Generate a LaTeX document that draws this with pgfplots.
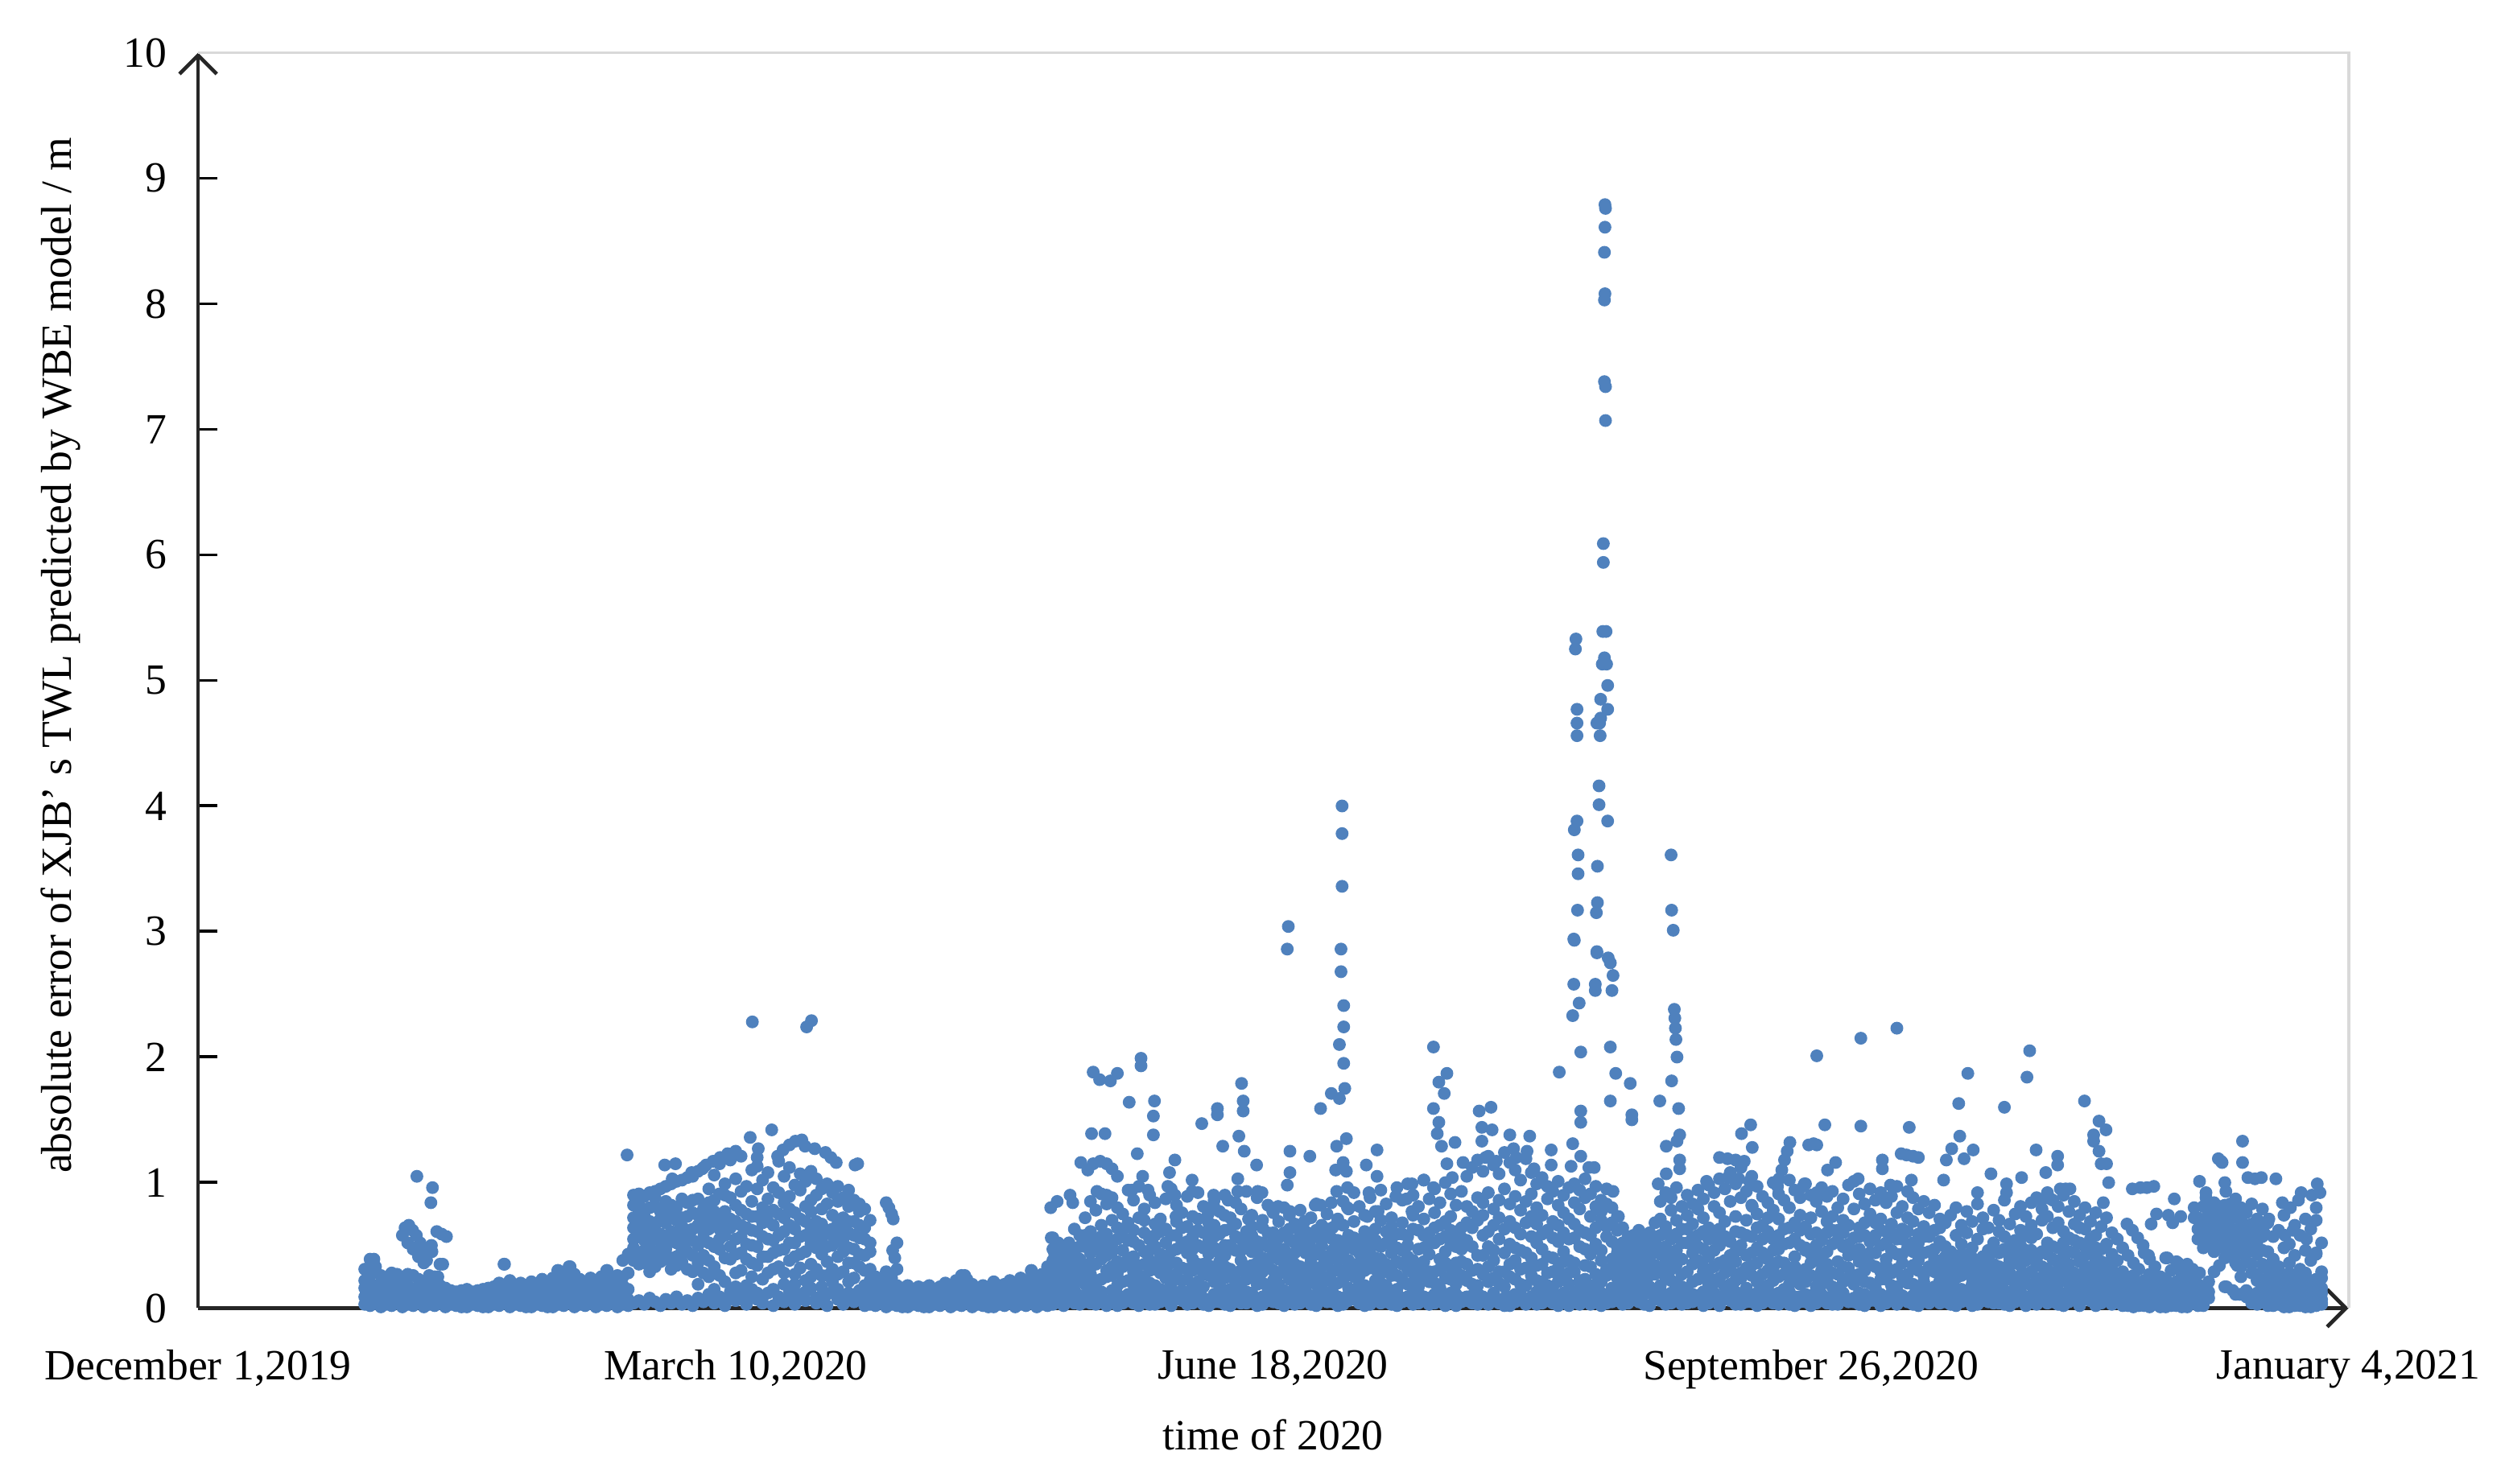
\documentclass[border=0pt]{standalone}
\usepackage{fontspec}
\setmainfont{Liberation Serif}
\usepackage{pgfplots}
\usepackage{pgfplotstable}
\pgfplotsset{compat=1.18}
\usetikzlibrary{arrows.meta}
\definecolor{ptblue}{RGB}{79,129,189}

% day counted from December 1, 2019; five readings per day
\pgfplotstableread{
d a b c e f
31 0.03 0.09 0.16 0.22 0.31
32 0.02 0.07 0.13 0.26 0.39
33 0.04 0.11 0.18 0.29 0.33
34 0.01 0.06 0.12 0.20 0.26
35 0.03 0.08 0.15 0.21 0.11
36 0.02 0.10 0.17 0.25 0.28
37 0.04 0.07 0.13 0.21 0.27
38 0.01 0.06 0.15 0.24 0.58
39 0.03 0.11 0.18 0.27 0.52
40 0.02 0.09 0.14 0.26 0.47
41 0.04 0.07 0.16 0.23 0.41
42 0.01 0.10 0.13 0.20 0.36
43 0.03 0.05 0.12 0.19 0.26
44 0.02 0.08 0.15 0.22 0.25
45 0.04 0.06 0.13 0.18 0.35
46 0.01 0.09 0.12 0.16 0.07
47 0.03 0.05 0.10 0.14 0.08
48 0.02 0.07 0.11 0.13 0.04
49 0.04 0.06 0.09 0.14 0.01
50 0.01 0.05 0.10 0.15 0.12
51 0.03 0.07 0.12 0.13 0.04
52 0.02 0.06 0.09 0.14 0.11
53 0.04 0.08 0.11 0.15 0.01
54 0.01 0.05 0.10 0.16 0.12
55 0.03 0.07 0.12 0.17 0.04
56 0.02 0.06 0.11 0.15 0.20
57 0.04 0.08 0.13 0.18 0.35
58 0.01 0.07 0.12 0.19 0.22
59 0.03 0.09 0.14 0.17 0.05
60 0.02 0.06 0.11 0.16 0.20
61 0.04 0.08 0.13 0.18 0.01
62 0.01 0.07 0.12 0.21 0.15
63 0.03 0.09 0.14 0.19 0.05
64 0.02 0.06 0.12 0.17 0.23
65 0.04 0.08 0.15 0.20 0.01
66 0.01 0.10 0.13 0.18 0.24
67 0.03 0.07 0.12 0.21 0.30
68 0.02 0.09 0.14 0.19 0.25
69 0.04 0.08 0.16 0.22 0.33
70 0.01 0.06 0.13 0.20 0.27
71 0.03 0.09 0.15 0.18 0.23
72 0.02 0.07 0.12 0.21 0.16
73 0.04 0.10 0.14 0.19 0.24
74 0.01 0.06 0.11 0.17 0.22
75 0.03 0.08 0.13 0.20 0.25
76 0.02 0.07 0.15 0.23 0.30
77 0.04 0.09 0.12 0.19 0.24
78 0.01 0.06 0.14 0.21 0.26
79 0.03 0.08 0.18 0.25 0.38
80 0.02 0.07 0.15 0.28 0.43
81 0.04 0.38 0.55 0.72 0.90
82 0.06 0.42 0.57 0.70 0.91
83 0.03 0.36 0.54 0.79 0.89
84 0.08 0.40 0.58 0.69 0.92
85 0.05 0.33 0.56 0.81 0.93
86 0.02 0.44 0.59 0.71 0.95
87 0.07 0.39 0.55 0.78 0.97
88 0.04 0.31 0.53 0.73 0.99
89 0.09 0.41 0.60 0.80 1.01
90 0.03 0.37 0.57 0.72 1.02
91 0.06 0.45 0.62 0.84 1.04
92 0.02 0.29 0.54 0.76 1.05
93 0.08 0.36 0.66 0.87 1.09
94 0.05 0.42 0.61 0.79 1.12
95 0.11 0.25 0.52 0.74 0.95
96 0.04 0.33 0.68 0.86 1.06
97 0.09 0.47 0.63 0.91 1.15
98 0.02 0.21 0.58 0.77 0.99
99 0.13 0.39 0.71 0.88 1.18
100 0.06 0.28 0.55 0.82 1.03
101 0.10 0.44 0.66 0.93 1.21
102 0.03 0.18 0.51 0.75 0.97
103 0.15 0.36 0.62 0.85 1.10
104 0.07 0.49 0.73 0.95 1.13
105 0.04 0.23 0.57 0.80 1.02
106 0.12 0.41 0.69 0.87 1.08
107 0.02 0.31 0.54 0.78 0.96
108 0.09 0.46 0.75 0.92 1.17
109 0.05 0.19 0.61 0.84 1.05
110 0.14 0.38 0.66 0.89 1.12
111 0.03 0.27 0.52 0.76 0.98
112 0.11 0.43 0.71 0.94 1.07
113 0.06 0.22 0.58 0.81 1.01
114 0.16 0.35 0.64 0.86 1.09
115 0.04 0.48 0.69 0.90 1.03
116 0.10 0.26 0.55 0.79 0.95
117 0.02 0.37 0.62 0.83 0.99
118 0.13 0.21 0.50 0.74 0.92
119 0.07 0.41 0.67 0.85 0.97
120 0.03 0.29 0.53 0.72 0.88
121 0.12 0.36 0.60 0.81 0.94
122 0.05 0.24 0.47 0.69 0.86
123 0.09 0.33 0.56 0.77 0.83
124 0.02 0.18 0.42 0.64 0.79
125 0.06 0.14 0.31 0.52 0.70
126 0.02 0.07 0.12 0.18 0.25
127 0.04 0.09 0.14 0.16 0.21
128 0.01 0.06 0.11 0.17 0.29
129 0.03 0.08 0.13 0.19 0.24
130 0.02 0.10 0.15 0.18 0.31
131 0.04 0.07 0.12 0.16 0.01
132 0.01 0.06 0.10 0.14 0.18
133 0.03 0.08 0.11 0.15 0.05
134 0.02 0.05 0.09 0.13 0.17
135 0.04 0.07 0.12 0.16 0.01
136 0.01 0.06 0.10 0.14 0.18
137 0.03 0.08 0.13 0.15 0.05
138 0.02 0.05 0.11 0.17 0.09
139 0.04 0.07 0.12 0.16 0.20
140 0.01 0.09 0.13 0.18 0.05
141 0.03 0.06 0.11 0.19 0.22
142 0.02 0.08 0.14 0.17 0.26
143 0.04 0.07 0.12 0.20 0.23
144 0.01 0.06 0.10 0.15 0.19
145 0.03 0.09 0.13 0.16 0.05
146 0.02 0.05 0.11 0.14 0.18
147 0.04 0.08 0.12 0.17 0.01
148 0.01 0.06 0.10 0.15 0.21
149 0.03 0.07 0.13 0.18 0.05
150 0.02 0.09 0.14 0.19 0.11
151 0.04 0.06 0.12 0.16 0.22
152 0.01 0.08 0.11 0.18 0.04
153 0.03 0.07 0.13 0.20 0.24
154 0.02 0.05 0.12 0.17 0.22
155 0.04 0.09 0.15 0.21 0.30
156 0.01 0.08 0.14 0.19 0.24
157 0.03 0.06 0.16 0.22 0.27
158 0.02 0.10 0.17 0.25 0.33
159 0.03 0.12 0.24 0.38 0.56
160 0.06 0.18 0.29 0.44 0.21
161 0.02 0.09 0.33 0.47 0.15
162 0.08 0.21 0.36 0.52 0.11
163 0.04 0.14 0.27 0.41 0.63
164 0.10 0.25 0.39 0.58 0.07
165 0.05 0.19 0.31 0.49 0.72
166 0.12 0.27 0.44 0.61 0.85
167 0.03 0.16 0.35 0.54 0.78
168 0.09 0.23 0.48 0.66 0.91
169 0.06 0.30 0.42 0.59 0.83
170 0.14 0.26 0.51 0.70 0.88
171 0.02 0.18 0.37 0.64 0.80
172 0.08 0.33 0.46 0.57 0.75
173 0.11 0.22 0.40 0.68 0.94
174 0.04 0.29 0.53 0.62 0.86
175 0.07 0.17 0.34 0.72 0.97
176 0.13 0.25 0.45 0.60 0.79
177 0.03 0.20 0.38 0.55 0.90
178 0.09 0.31 0.49 0.67 0.84
179 0.05 0.15 0.28 0.43 0.71
180 0.12 0.24 0.41 0.63 0.87
181 0.02 0.19 0.36 0.58 0.95
182 0.08 0.27 0.47 0.69 0.82
183 0.06 0.14 0.32 0.52 0.76
184 0.10 0.23 0.44 0.65 0.89
185 0.04 0.30 0.39 0.57 0.73
186 0.13 0.21 0.50 0.71 0.92
187 0.03 0.17 0.35 0.60 0.81
188 0.07 0.26 0.43 0.54 0.68
189 0.11 0.32 0.48 0.66 0.86
190 0.05 0.18 0.37 0.59 0.77
191 0.09 0.24 0.42 0.62 0.90
192 0.02 0.15 0.31 0.50 0.72
193 0.12 0.28 0.46 0.67 0.84
194 0.06 0.20 0.38 0.55 0.79
195 0.04 0.13 0.33 0.61 0.93
196 0.10 0.25 0.45 0.58 0.74
197 0.07 0.19 0.36 0.53 0.88
198 0.03 0.29 0.40 0.64 0.70
199 0.11 0.16 0.34 0.49 0.82
200 0.05 0.22 0.44 0.60 0.76
201 0.08 0.27 0.39 0.56 0.69
202 0.02 0.14 0.31 0.47 0.80
203 0.12 0.23 0.42 0.63 0.74
204 0.06 0.18 0.35 0.52 0.67
205 0.04 0.26 0.48 0.59 0.78
206 0.09 0.15 0.30 0.44 0.61
207 0.03 0.21 0.37 0.55 0.72
208 0.11 0.28 0.43 0.62 0.83
209 0.07 0.17 0.33 0.50 0.66
210 0.05 0.24 0.41 0.57 0.75
211 0.10 0.13 0.29 0.46 0.64
212 0.02 0.20 0.38 0.54 0.71
213 0.08 0.27 0.45 0.66 0.85
214 0.06 0.16 0.34 0.58 0.79
215 0.12 0.25 0.47 0.69 0.92
216 0.04 0.19 0.36 0.53 0.81
217 0.09 0.30 0.42 0.61 0.74
218 0.03 0.14 0.32 0.56 0.88
219 0.07 0.22 0.40 0.63 0.77
220 0.11 0.28 0.49 0.70 0.94
221 0.05 0.18 0.35 0.52 0.83
222 0.10 0.26 0.44 0.65 0.72
223 0.02 0.15 0.37 0.59 0.96
224 0.08 0.23 0.46 0.68 0.86
225 0.06 0.31 0.41 0.57 0.99
226 0.13 0.20 0.38 0.74 0.90
227 0.04 0.17 0.33 0.62 0.81
228 0.09 0.27 0.48 0.71 1.02
229 0.03 0.21 0.43 0.60 0.87
230 0.11 0.29 0.52 0.76 0.95
231 0.07 0.16 0.39 0.66 0.84
232 0.05 0.24 0.45 0.69 1.00
233 0.12 0.32 0.50 0.73 0.91
234 0.02 0.19 0.36 0.58 0.82
235 0.08 0.26 0.47 0.64 0.93
236 0.06 0.22 0.54 0.81 1.05
237 0.10 0.30 0.49 0.77 1.12
238 0.03 0.18 0.42 0.88 1.18
239 0.09 0.27 0.58 0.84 1.09
240 0.05 0.33 0.61 0.92 1.21
241 0.12 0.24 0.46 0.79 1.14
242 0.04 0.20 0.55 0.86 1.07
243 0.08 0.29 0.63 0.95 1.24
244 0.02 0.35 0.51 0.83 1.16
245 0.11 0.23 0.48 0.89 1.10
246 0.07 0.31 0.59 0.78 1.02
247 0.05 0.18 0.44 0.85 1.19
248 0.09 0.26 0.57 0.91 1.08
249 0.03 0.34 0.52 0.80 0.99
250 0.12 0.21 0.47 0.74 1.04
251 0.06 0.28 0.62 0.87 0.97
252 0.04 0.17 0.40 0.69 0.93
253 0.10 0.32 0.53 0.82 1.01
254 0.08 0.25 0.45 0.76 0.90
255 0.02 0.19 0.38 0.71 0.96
256 0.11 0.29 0.56 0.84 0.99
257 0.05 0.22 0.49 0.79 0.94
258 0.09 0.34 0.60 0.88 1.03
259 0.03 0.18 0.43 0.73 0.91
260 0.07 0.27 0.51 0.81 0.97
261 0.12 0.21 0.46 0.77 0.86
262 0.04 0.31 0.57 0.83 0.95
263 0.10 0.16 0.39 0.68 0.80
264 0.06 0.24 0.44 0.62 0.73
265 0.03 0.13 0.35 0.52 0.64
266 0.08 0.28 0.41 0.47 0.57
267 0.15 0.33 0.45 0.58 0.07
268 0.05 0.22 0.37 0.51 0.62
269 0.19 0.30 0.48 0.55 0.11
270 0.02 0.26 0.40 0.60 0.44
271 0.12 0.34 0.53 0.68 0.09
272 0.06 0.18 0.43 0.71 0.85
273 0.09 0.25 0.49 0.65 0.92
274 0.04 0.31 0.55 0.78 0.88
275 0.11 0.20 0.46 0.70 0.96
276 0.03 0.27 0.39 0.63 0.81
277 0.08 0.15 0.52 0.74 0.90
278 0.05 0.35 0.44 0.67 0.83
279 0.10 0.23 0.58 0.79 0.94
280 0.02 0.29 0.47 0.72 0.87
281 0.07 0.19 0.41 0.64 0.98
282 0.12 0.33 0.56 0.81 0.92
283 0.04 0.24 0.50 0.76 1.03
284 0.09 0.17 0.38 0.69 0.95
285 0.06 0.30 0.53 0.85 1.08
286 0.03 0.22 0.45 0.73 0.99
287 0.11 0.28 0.60 0.88 1.12
288 0.05 0.16 0.42 0.70 0.93
289 0.08 0.34 0.57 0.82 1.05
290 0.02 0.21 0.48 0.75 0.97
291 0.10 0.27 0.44 0.66 0.89
292 0.06 0.18 0.39 0.61 0.84
293 0.04 0.32 0.55 0.78 1.00
294 0.12 0.25 0.47 0.71 0.91
295 0.07 0.15 0.36 0.63 0.86
296 0.03 0.29 0.52 0.80 1.02
297 0.09 0.23 0.41 0.68 0.94
298 0.05 0.19 0.50 0.74 0.88
299 0.11 0.31 0.46 0.65 0.99
300 0.02 0.26 0.43 0.72 0.90
301 0.08 0.17 0.38 0.60 0.85
302 0.06 0.30 0.54 0.77 0.96
303 0.04 0.22 0.45 0.69 0.89
304 0.10 0.28 0.51 0.73 0.93
305 0.03 0.14 0.37 0.62 0.80
306 0.09 0.33 0.49 0.70 0.87
307 0.07 0.24 0.42 0.66 0.98
308 0.05 0.19 0.56 0.79 1.01
309 0.12 0.27 0.47 0.64 0.91
310 0.02 0.21 0.40 0.58 0.83
311 0.08 0.35 0.53 0.75 0.95
312 0.06 0.16 0.44 0.68 0.86
313 0.11 0.29 0.50 0.71 0.92
314 0.04 0.23 0.39 0.61 0.84
315 0.09 0.18 0.46 0.67 0.89
316 0.03 0.31 0.55 0.76 0.97
317 0.07 0.25 0.43 0.63 0.81
318 0.05 0.20 0.48 0.72 0.93
319 0.10 0.34 0.52 0.69 0.88
320 0.02 0.17 0.38 0.59 0.79
321 0.08 0.26 0.44 0.65 0.85
322 0.06 0.14 0.33 0.57 0.76
323 0.12 0.29 0.47 0.62 0.82
324 0.04 0.22 0.36 0.53 0.71
325 0.09 0.18 0.31 0.49 0.68
326 0.03 0.11 0.27 0.45 0.74
327 0.07 0.24 0.39 0.58 0.80
328 0.05 0.15 0.34 0.51 0.66
329 0.10 0.28 0.42 0.60 0.77
330 0.02 0.19 0.30 0.48 0.69
331 0.08 0.13 0.37 0.55 0.83
332 0.06 0.25 0.41 0.63 0.72
333 0.11 0.17 0.29 0.46 0.64
334 0.04 0.21 0.35 0.52 0.78
335 0.09 0.27 0.44 0.61 0.70
336 0.03 0.14 0.32 0.57 0.86
337 0.07 0.23 0.40 0.49 0.67
338 0.05 0.18 0.36 0.54 0.75
339 0.12 0.26 0.43 0.62 0.81
340 0.02 0.20 0.38 0.58 0.73
341 0.08 0.29 0.46 0.66 0.84
342 0.06 0.16 0.34 0.59 0.88
343 0.10 0.24 0.45 0.70 0.79
344 0.04 0.31 0.52 0.73 0.92
345 0.09 0.19 0.39 0.64 0.86
346 0.03 0.27 0.48 0.68 0.81
347 0.07 0.22 0.41 0.61 0.90
348 0.05 0.14 0.35 0.56 0.77
349 0.11 0.28 0.44 0.67 0.85
350 0.02 0.18 0.37 0.52 0.74
351 0.08 0.25 0.42 0.63 0.80
352 0.06 0.13 0.33 0.55 0.69
353 0.10 0.21 0.40 0.58 0.76
354 0.04 0.16 0.29 0.47 0.65
355 0.09 0.24 0.36 0.51 0.72
356 0.03 0.12 0.27 0.43 0.60
357 0.07 0.15 0.21 0.38 0.55
358 0.02 0.09 0.17 0.29 0.48
359 0.05 0.11 0.14 0.24 0.42
360 0.01 0.08 0.16 0.21 0.36
361 0.04 0.10 0.13 0.19 0.31
362 0.02 0.07 0.15 0.22 0.44
363 0.06 0.12 0.18 0.27 0.39
364 0.03 0.09 0.14 0.20 0.33
365 0.01 0.06 0.11 0.17 0.25
366 0.05 0.10 0.16 0.23 0.40
367 0.02 0.08 0.13 0.19 0.30
368 0.04 0.11 0.15 0.21 0.37
369 0.01 0.07 0.12 0.18 0.28
370 0.03 0.09 0.14 0.24 0.35
371 0.06 0.12 0.17 0.26 0.31
372 0.02 0.10 0.19 0.55 0.72
373 0.05 0.14 0.48 0.63 0.81
374 0.08 0.21 0.52 0.68 0.77
375 0.29 0.45 0.58 0.71 0.84
376 0.34 0.50 0.62 0.75 0.66
377 0.17 0.47 0.56 0.69 0.82
378 0.41 0.53 0.64 0.78 0.60
379 0.11 0.36 0.49 0.73 0.87
380 0.33 0.44 0.61 0.70 0.80
381 0.09 0.37 0.52 0.66 0.76
382 0.04 0.28 0.48 0.59 0.83
383 0.12 0.22 0.43 0.64 0.71
384 0.06 0.18 0.35 0.57 0.79
385 0.02 0.11 0.24 0.45 0.68
386 0.07 0.15 0.21 0.39 0.57
387 0.03 0.09 0.18 0.33 0.62
388 0.05 0.13 0.26 0.48 0.74
389 0.01 0.10 0.22 0.36 0.51
390 0.06 0.14 0.19 0.42 0.66
391 0.02 0.08 0.25 0.31 0.58
392 0.04 0.12 0.20 0.46 0.71
393 0.01 0.09 0.17 0.38 0.63
394 0.05 0.13 0.23 0.44 0.80
395 0.03 0.07 0.16 0.29 0.52
}\basedata

% three more readings per day where the series is busy
\pgfplotstableread{
d p q r
81 0.48 0.64 0.82
82 0.35 0.78 0.86
83 0.46 0.62 0.73
84 0.29 0.51 0.80
85 0.45 0.66 0.88
86 0.37 0.53 0.77
87 0.47 0.68 0.85
88 0.40 0.61 0.82
89 0.34 0.52 0.70
90 0.46 0.65 0.87
91 0.31 0.54 0.73
92 0.42 0.63 0.86
93 0.19 0.50 0.74
94 0.28 0.56 0.69
95 0.38 0.63 0.84
96 0.15 0.49 0.77
97 0.26 0.55 0.72
98 0.40 0.68 0.90
99 0.09 0.49 0.64
100 0.17 0.43 0.69
101 0.30 0.57 0.78
102 0.08 0.39 0.64
103 0.25 0.50 0.73
104 0.12 0.34 0.61
105 0.09 0.41 0.68
106 0.28 0.55 0.75
107 0.15 0.44 0.66
108 0.06 0.33 0.58
109 0.28 0.47 0.72
110 0.10 0.52 0.79
111 0.19 0.41 0.63
112 0.07 0.32 0.57
113 0.13 0.45 0.69
114 0.25 0.51 0.77
115 0.08 0.31 0.59
116 0.17 0.43 0.67
117 0.11 0.26 0.49
118 0.31 0.58 0.63
119 0.15 0.27 0.53
120 0.07 0.45 0.61
121 0.21 0.48 0.69
122 0.10 0.36 0.58
123 0.14 0.43 0.66
124 0.08 0.30 0.55
125 0.03 0.22 0.45
159 0.07 0.31 0.47
160 0.11 0.35 0.52
161 0.05 0.24 0.39
162 0.14 0.30 0.46
163 0.09 0.20 0.34
164 0.03 0.33 0.49
165 0.10 0.26 0.58
166 0.04 0.36 0.53
167 0.08 0.22 0.47
168 0.13 0.39 0.57
169 0.02 0.25 0.50
170 0.07 0.33 0.45
171 0.11 0.28 0.55
172 0.04 0.21 0.63
173 0.06 0.36 0.54
174 0.10 0.19 0.41
175 0.02 0.26 0.50
176 0.08 0.35 0.70
177 0.12 0.30 0.46
178 0.03 0.18 0.58
179 0.07 0.37 0.61
180 0.10 0.33 0.52
181 0.04 0.26 0.45
182 0.12 0.36 0.58
183 0.09 0.22 0.64
184 0.03 0.31 0.53
185 0.11 0.18 0.47
186 0.06 0.35 0.62
187 0.08 0.27 0.48
188 0.02 0.34 0.61
189 0.05 0.21 0.57
190 0.13 0.28 0.44
191 0.03 0.33 0.50
192 0.07 0.25 0.63
193 0.10 0.19 0.57
194 0.04 0.30 0.46
195 0.08 0.23 0.51
196 0.12 0.34 0.65
197 0.02 0.28 0.45
198 0.09 0.20 0.52
199 0.06 0.37 0.60
200 0.11 0.30 0.53
201 0.04 0.19 0.47
202 0.07 0.36 0.60
203 0.10 0.29 0.55
204 0.03 0.25 0.44
205 0.13 0.33 0.65
206 0.06 0.22 0.52
207 0.09 0.31 0.48
208 0.02 0.19 0.57
209 0.08 0.26 0.42
210 0.12 0.35 0.63
211 0.05 0.21 0.55
212 0.09 0.31 0.46
213 0.03 0.22 0.53
214 0.11 0.38 0.49
215 0.07 0.31 0.56
216 0.10 0.26 0.44
217 0.02 0.18 0.52
218 0.06 0.37 0.47
219 0.12 0.31 0.54
220 0.04 0.20 0.39
221 0.08 0.29 0.61
222 0.03 0.33 0.55
223 0.11 0.26 0.48
224 0.05 0.35 0.59
225 0.09 0.19 0.50
226 0.03 0.28 0.63
227 0.12 0.24 0.47
228 0.06 0.37 0.58
229 0.08 0.29 0.52
230 0.04 0.20 0.64
231 0.10 0.31 0.55
232 0.02 0.36 0.57
233 0.07 0.23 0.62
234 0.11 0.30 0.49
235 0.05 0.37 0.56
236 0.09 0.35 0.68
237 0.04 0.19 0.64
238 0.12 0.31 0.70
239 0.07 0.42 0.74
240 0.03 0.21 0.49
241 0.10 0.38 0.66
242 0.06 0.29 0.72
243 0.02 0.17 0.44
244 0.09 0.25 0.69
245 0.05 0.38 0.64
246 0.11 0.19 0.46
247 0.03 0.32 0.68
248 0.08 0.40 0.73
249 0.13 0.22 0.67
250 0.04 0.35 0.59
251 0.10 0.18 0.41
252 0.07 0.29 0.56
253 0.02 0.21 0.66
254 0.12 0.37 0.60
255 0.06 0.28 0.55
256 0.09 0.36 0.67
257 0.03 0.15 0.62
258 0.11 0.23 0.47
259 0.06 0.33 0.58
260 0.13 0.19 0.64
261 0.02 0.38 0.70
262 0.09 0.26 0.65
263 0.05 0.29 0.53
264 0.14 0.35 0.49
265 0.21 0.27 0.44
266 0.04 0.19 0.32
267 0.25 0.39 0.51
268 0.12 0.30 0.45
269 0.03 0.24 0.41
270 0.17 0.36 0.52
271 0.07 0.27 0.47
272 0.14 0.31 0.58
273 0.03 0.38 0.62
274 0.12 0.22 0.41
275 0.06 0.35 0.59
276 0.10 0.17 0.52
277 0.04 0.29 0.63
278 0.11 0.21 0.56
279 0.07 0.38 0.49
280 0.13 0.33 0.61
281 0.04 0.25 0.55
282 0.09 0.20 0.46
283 0.02 0.36 0.63
284 0.11 0.28 0.57
285 0.07 0.19 0.42
286 0.13 0.37 0.61
287 0.03 0.24 0.50
288 0.09 0.32 0.58
289 0.05 0.26 0.44
290 0.12 0.36 0.64
291 0.04 0.17 0.55
292 0.08 0.30 0.72
293 0.11 0.22 0.46
294 0.03 0.37 0.58
295 0.06 0.27 0.51
296 0.13 0.19 0.64
297 0.02 0.33 0.55
298 0.09 0.28 0.62
299 0.05 0.21 0.48
300 0.10 0.36 0.59
301 0.04 0.25 0.50
302 0.11 0.19 0.43
303 0.07 0.35 0.60
304 0.03 0.17 0.62
305 0.09 0.27 0.54
306 0.12 0.21 0.60
307 0.05 0.32 0.51
308 0.08 0.26 0.43
309 0.03 0.37 0.57
310 0.11 0.30 0.68
311 0.06 0.20 0.44
312 0.09 0.33 0.58
313 0.02 0.23 0.62
314 0.07 0.34 0.52
315 0.12 0.28 0.60
316 0.04 0.17 0.43
317 0.10 0.36 0.55
318 0.06 0.27 0.61
319 0.03 0.19 0.45
320 0.08 0.30 0.52
321 0.11 0.21 0.57
322 0.04 0.32 0.45
323 0.07 0.17 0.39
324 0.13 0.28 0.64
325 0.05 0.24 0.41
326 0.09 0.19 0.37
327 0.02 0.15 0.33
328 0.10 0.26 0.43
329 0.06 0.13 0.35
330 0.12 0.24 0.40
331 0.03 0.19 0.29
332 0.08 0.14 0.33
333 0.05 0.22 0.39
334 0.11 0.29 0.45
335 0.04 0.16 0.33
336 0.09 0.22 0.47
337 0.02 0.28 0.38
338 0.07 0.12 0.43
339 0.13 0.34 0.50
340 0.05 0.27 0.46
341 0.10 0.18 0.56
342 0.03 0.24 0.40
343 0.07 0.15 0.33
344 0.12 0.21 0.43
345 0.05 0.28 0.49
346 0.09 0.14 0.36
347 0.02 0.31 0.52
348 0.08 0.25 0.45
349 0.13 0.19 0.54
350 0.04 0.26 0.64
351 0.10 0.33 0.49
352 0.06 0.20 0.44
353 0.02 0.27 0.48
354 0.08 0.22 0.37
355 0.11 0.17 0.30
356 0.05 0.19 0.34
357 0.10 0.13 0.27
358 0.04 0.12 0.21
359 0.02 0.08 0.18
360 0.05 0.12 0.26
361 0.02 0.07 0.15
362 0.04 0.10 0.18
363 0.01 0.08 0.15
364 0.05 0.11 0.17
365 0.03 0.08 0.14
366 0.01 0.07 0.13
367 0.04 0.11 0.16
368 0.02 0.07 0.18
369 0.05 0.10 0.15
370 0.01 0.06 0.17
371 0.04 0.09 0.21
372 0.06 0.14 0.63
373 0.02 0.10 0.70
374 0.13 0.59 0.75
375 0.52 0.65 0.78
376 0.57 0.69 0.81
377 0.40 0.61 0.74
378 0.48 0.71 0.83
379 0.55 0.62 0.79
380 0.25 0.51 0.68
381 0.14 0.44 0.58
382 0.09 0.35 0.67
383 0.03 0.27 0.53
384 0.10 0.14 0.46
385 0.05 0.19 0.31
386 0.02 0.10 0.27
387 0.06 0.14 0.23
388 0.01 0.08 0.19
389 0.04 0.16 0.28
390 0.02 0.11 0.24
391 0.05 0.13 0.17
392 0.01 0.07 0.28
393 0.06 0.15 0.22
394 0.02 0.10 0.20
395 0.04 0.12 0.24
}\extdata

\pgfplotsset{dots/.style={only marks, mark=*, mark size=1pt, color=ptblue,
  mark options={draw=none, fill=ptblue}}}

\begin{document}
\fontsize{8.1}{9.7}\selectfont
\begin{tikzpicture}
\begin{axis}[
  width=403.8pt, height=235.8pt, scale only axis,
  xmin=0, xmax=400, ymin=0, ymax=10,
  axis lines=left,
  axis line style={black!85, line width=0.7pt, -{Straight Barb[length=3.5pt,width=7pt]}},
  xtick={0,100,200,300,400},
  xticklabels={{December 1,2019},{March 10,2020},{June 18,2020},{September 26,2020},{January 4,2021}},
  ytick={0,1,...,10},
  tick align=inside,
  major tick length=3.6pt,
  tick style={black, line width=0.6pt},
  xticklabel style={yshift=-5pt},
  yticklabel style={xshift=-3pt},
  /pgf/number format/assume math mode=true,
  xlabel={time of 2020},
  ylabel={absolute error of XJB’ s TWL predicted by WBE model / m},
  every axis y label/.style={at={([xshift=-25.8pt]rel axis cs:0,0.52)}, rotate=90, anchor=center},
  clip=false,
]
\coordinate (O) at (rel axis cs:0,0);
\draw[black!15, line width=0.6pt] (rel axis cs:0,1) -- (rel axis cs:1,1) -- (rel axis cs:1,0);

\pgfplotsinvokeforeach{a,b,c,e,f}{
  \addplot[dots] table[x=d, y=#1] {\basedata};
}
\pgfplotsinvokeforeach{p,q,r}{
  \addplot[dots] table[x=d, y=#1] {\extdata};
}

% single readings off the daily band
\addplot[dots] coordinates {
(40.7,1.05) (43.6,0.96) (43.3,0.84) (38.5,0.64) (39.2,0.66) (39.9,0.62) (40.6,0.58)
(41.3,0.52) (41.9,0.45) (42.5,0.38) (44.4,0.61) (45.3,0.59) (46.2,0.57) (43.5,0.45)
(43.4,0.50) (45.5,0.35) (44.6,0.25) (32.7,0.39) (56.9,0.35) (66.9,0.30) (69.2,0.33) (76.1,0.30)
(79.8,1.22) (86.8,1.14) (88.8,1.15) (88.2,1.03) (91.8,1.08) (93.8,1.11) (94.5,1.14)
(95.8,1.17) (97.1,1.20) (98.5,1.23) (100.0,1.25) (102.7,1.36) (104.2,1.27) (104.0,1.20)
(106.7,1.42) (107.8,1.21) (108.8,1.26) (110.0,1.30) (111.1,1.33) (112.3,1.34) (112.9,1.29)
(114.7,1.27) (116.7,1.24) (117.7,1.20) (118.7,1.16) (122.2,1.14) (122.7,1.15)
(103.1,2.28) (113.2,2.24) (114.1,2.29)
(128.0,0.84) (128.5,0.80) (129.0,0.75) (129.3,0.71) (130.0,0.52) (129.2,0.46) (129.6,0.40)
(142.6,0.26) (155.0,0.30) (158.6,0.80) (159.8,0.85) (158.7,0.56) (159.3,0.44)
(162.2,0.90) (162.7,0.84)
(166.5,1.88) (167.7,1.82) (169.7,1.81) (171.0,1.87) (173.2,1.64) (175.4,1.99) (175.4,1.93)
(177.9,1.65) (177.7,1.53) (177.7,1.38) (166.2,1.39) (168.7,1.39) (174.7,1.23) (164.2,1.16)
(165.5,1.10) (166.5,1.15) (167.8,1.17) (169.0,1.15) (170.0,1.11) (171.0,1.05) (167.2,0.93)
(169.0,0.90) (173.7,0.94) (175.7,1.05) (176.7,0.94) (181.7,1.18) (180.7,1.08) (180.4,0.97)
(181.7,0.90) (181.9,0.73) (184.9,1.02) (184.9,0.93) (188.9,0.90) (188.9,0.82) (187.9,0.75)
(186.7,1.47) (189.6,1.59) (189.6,1.54) (190.6,1.29) (191.6,0.86) (190.9,0.74)
(194.1,1.79) (194.4,1.65) (194.4,1.57) (193.6,1.37) (194.6,1.25) (193.4,1.03) (193.4,0.93)
(196.9,1.14) (197.9,0.92) (197.1,0.93) (195.4,0.71) (199.9,0.77) (200.9,0.81)
(202.6,2.86) (202.8,3.04) (203.1,1.25) (203.1,1.08) (202.6,0.98) (203.1,0.77) (205.8,0.69)
(206.8,1.21) (207.8,0.82) (208.8,1.59) (208.8,0.82) (210.8,1.71) (210.8,0.84) (212.3,1.67)
(213.3,1.75) (212.6,2.86) (212.6,2.68) (213.1,2.41) (213.1,2.24) (212.3,2.10) (213.1,1.95)
(212.8,4.00) (212.8,3.78) (212.8,3.36)
(213.6,1.35) (211.8,1.29) (213.0,1.16) (211.6,1.10) (213.6,1.09) (213.8,0.96) (211.8,0.93)
(213.8,0.80) (211.8,0.67) (219.3,1.26) (217.3,1.14) (219.3,1.05) (217.8,0.92) (217.5,0.73)
(219.5,0.77) (225.8,0.99) (222.8,0.89) (224.8,0.87) (225.8,0.77)
(229.8,2.08) (230.8,1.80) (232.3,1.87) (231.8,1.71) (229.8,1.59) (230.8,1.48) (230.5,1.39)
(231.3,1.29) (233.8,1.32) (232.3,1.15) (235.3,1.16) (233.3,1.04) (228.0,1.02) (229.8,0.96)
(238.3,1.57) (240.5,1.60) (238.8,1.44) (238.8,1.33) (240.7,1.42) (239.5,1.20) (241.5,1.17)
(244.0,1.38) (244.7,1.27) (245.2,1.20) (247.7,1.37) (247.2,1.25) (248.5,1.11) (251.7,1.26)
(251.7,1.14) (253.2,1.88)
(255.9,2.94) (255.9,2.58) (256.9,2.43) (255.7,2.33) (257.2,2.04) (257.2,1.57) (257.2,1.48)
(255.7,1.31) (257.2,1.21) (255.4,1.13) (258.7,1.12) (259.7,1.12)
(260.2,2.83) (259.9,2.58) (259.9,2.53) (262.7,2.75) (263.2,2.65) (263.0,2.53) (262.7,2.08)
(263.7,1.87) (262.7,1.65) (266.4,1.79) (266.7,1.54) (266.7,1.50) (263.2,0.93) (264.2,0.73)
(261.7,8.79) (261.8,8.76) (261.7,8.61) (261.6,8.41) (261.7,8.08) (261.6,8.03) (261.6,7.38)
(261.8,7.34) (261.8,7.07) (261.4,6.09) (261.4,5.94) (261.3,5.39) (261.9,5.39) (261.6,5.18)
(261.2,5.13) (262.0,5.13) (262.2,4.96) (260.9,4.85) (262.2,4.77) (260.9,4.70) (260.2,4.66)
(260.7,4.66) (260.8,4.56) (260.6,4.16) (260.6,4.01) (262.2,3.88) (260.3,3.52) (260.3,3.23)
(260.1,3.15) (260.2,2.84) (262.3,2.79)
(256.3,5.33) (256.2,5.25) (256.5,4.77) (256.5,4.66) (256.5,4.56) (256.5,3.88) (256.0,3.81)
(256.7,3.61) (256.7,3.46) (256.6,3.17) (256.0,2.93)
(274.0,3.61) (274.1,3.17) (274.4,3.01)
(274.6,2.38) (274.7,2.31) (274.8,2.23) (274.9,2.14) (275.1,2.00) (274.1,1.81) (275.4,1.59)
(271.9,1.65) (275.6,1.38) (275.1,1.33) (273.1,1.29) (275.6,1.18) (275.6,1.11) (273.1,1.07)
(271.6,0.99)
(288.8,1.46) (287.1,1.39) (289.1,1.28) (283.0,1.20) (284.5,1.19) (286.0,1.18) (287.6,1.17)
(280.6,1.01) (284.6,1.04) (286.6,1.03) (288.6,1.01) (289.1,0.81)
(301.1,2.01) (309.3,2.15) (316.0,2.23) (340.7,2.05) (340.2,1.84) (350.9,1.65) (329.2,1.87)
(327.5,1.63) (336.0,1.60) (302.6,1.46) (309.3,1.45) (318.3,1.44) (327.7,1.37)
(353.6,1.49) (354.9,1.42) (352.6,1.38) (352.6,1.33) (353.6,1.25) (354.0,1.15) (355.0,1.15)
(355.4,1.00) (354.4,0.84)
(296.1,1.32) (295.6,1.25) (295.1,1.18) (294.6,1.10) (294.1,1.03) (293.8,0.97)
(299.6,1.30) (300.5,1.31) (301.1,1.30) (316.8,1.23) (317.8,1.22) (319.0,1.21) (320.0,1.20)
(313.3,1.18) (313.3,1.11) (304.6,1.16) (303.1,1.10) (298.8,0.99) (301.1,0.92)
(326.2,1.27) (330.2,1.26) (328.5,1.19) (325.2,1.18) (341.9,1.26) (345.9,1.21) (345.9,1.14)
(343.7,1.08) (339.2,1.04) (333.5,1.07) (336.4,0.99) (336.4,0.92) (331.0,0.92) (347.4,0.95)
(348.2,0.95) (314.8,0.98) (318.7,1.02) (308.8,1.03) (298.6,0.97) (324.7,1.02)
(342.9,0.86) (344.6,0.87) (346.4,0.95)
(380.3,1.33) (375.8,1.19) (376.3,1.17) (380.3,1.16) (376.5,1.16) (372.3,1.01) (373.5,0.92)
(373.5,0.88) (377.0,1.00) (377.2,0.93) (381.3,1.04) (382.6,1.03) (383.8,1.04) (386.5,1.03)
(394.2,0.99) (394.7,0.92) (393.2,0.90) (391.2,0.92) (359.8,0.95) (361.3,0.96) (362.5,0.96)
(363.8,0.97) (367.6,0.87) (371.3,0.80) (364.3,0.75) (366.5,0.74) (368.8,0.73) (371.3,0.72)
(363.3,0.67) (367.3,0.68) (358.8,0.67) (359.8,0.62) (360.8,0.56) (361.8,0.50) (362.8,0.42)
(366.3,0.40) (368.3,0.36) (370.3,0.32) (372.3,0.28) (379.3,0.34) (381.0,0.37) (377.3,0.17)
(378.5,0.14) (379.8,0.11) (394.0,0.43) (390.7,0.86) (389.2,0.80) (387.7,0.84) (385.2,0.71)
(384.3,0.60) (392.2,0.55) (394.0,0.70) (389.7,0.62) (388.2,0.58)
};
\end{axis}
\path ([shift={(-37.2pt,-33pt)}]O) rectangle ([shift={(433.2pt,245.7pt)}]O);
\end{tikzpicture}
\end{document}
